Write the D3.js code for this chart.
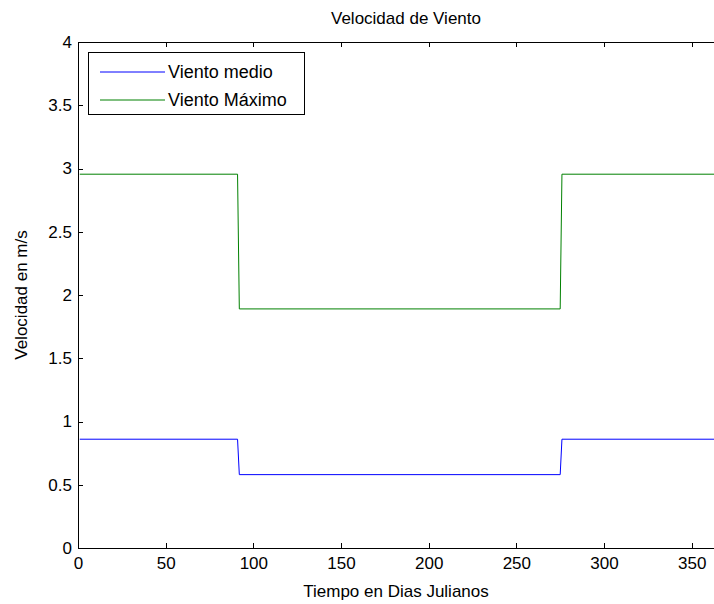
<!DOCTYPE html>
<html>
<head>
	<meta charset="utf-8">
	<title>Velocidad de Viento</title>
	<style>
		body {
			margin: 0;
			background: #fff;
			font-family: "Liberation Sans", Arial, sans-serif;
		}
		svg text {
			fill: #000;
		}
		.axis path, .axis line {
			stroke: #000;
			shape-rendering: crispEdges;
		}
	</style>
</head>
<body>
	<div id="chart"></div>

	<script src="https://cdn.jsdelivr.net/npm/d3@7"></script>
	<script>
	// Data: step values per Julian day (breakpoints)
	var days        = [1, 91, 92, 275, 276, 365]
	var vientoMedio = [0.86, 0.86, 0.58, 0.58, 0.86, 0.86]
	var vientoMax   = [2.955, 2.955, 1.89, 1.89, 2.955, 2.955]

	var xTicks = [0, 50, 100, 150, 200, 250, 300, 350]
	var yTicks = [0, 0.5, 1, 1.5, 2, 2.5, 3, 3.5, 4]

	var seriesNames  = ["Viento medio", "Viento Máximo"]
	var seriesColors = ["#0000ff", "#008000"]

	// Canvas
	var width   = 714,
		height  = 604,
		mLeft   = 78,
		mTop    = 42,
		mBottom = 548,
		mRight  = 718,
		fontSz  = "17px"

	var svg = d3.select("#chart").append("svg")
		.attr("width", width)
		.attr("height", height)
		.style("font-family", "'Liberation Sans', Arial, sans-serif")
		.style("font-size", fontSz)

	var x = d3.scaleLinear().domain([0, 365]).range([mLeft, mRight])
	var y = d3.scaleLinear().domain([0, 4]).range([mBottom, mTop])

	// Axes (ticks inside, MATLAB style)
	svg.append("g").attr("class", "axis")
		.attr("transform", "translate(0," + mBottom + ")")
		.call(d3.axisBottom(x).tickValues(xTicks).tickSize(-5).tickPadding(9).tickFormat(d3.format("d")))
		.call(function(g){ g.select(".domain").attr("d", "M" + mLeft + ",0H" + width) })

	svg.append("g").attr("class", "axis")
		.attr("transform", "translate(0," + mTop + ")")
		.call(d3.axisTop(x).tickValues(xTicks).tickSize(-5).tickFormat(""))
		.call(function(g){ g.select(".domain").attr("d", "M" + mLeft + ",0H" + width) })

	svg.append("g").attr("class", "axis")
		.attr("transform", "translate(" + mLeft + ",0)")
		.call(d3.axisLeft(y).tickValues(yTicks).tickSize(-5).tickPadding(6).tickFormat(d3.format("")))
		.call(function(g){ g.select(".domain").attr("d", "M0," + mTop + "V" + mBottom) })

	svg.selectAll(".axis text")
		.style("font-size", fontSz)
		.style("font-family", "'Liberation Sans', Arial, sans-serif")

	// Lines
	var line = d3.line()
		.x(function(d){ return x(d[0]) })
		.y(function(d){ return y(d[1]) })

	var allSeries = [vientoMedio, vientoMax]
	allSeries.forEach(function(vals, i){
		svg.append("path")
			.datum(days.map(function(d, j){ return [d, vals[j]] }))
			.attr("d", line)
			.attr("fill", "none")
			.attr("stroke", seriesColors[i])
			.attr("stroke-width", 1)
	})

	// Title and labels
	svg.append("text")
		.attr("x", 406).attr("y", 24)
		.attr("text-anchor", "middle")
		.text("Velocidad de Viento")

	svg.append("text")
		.attr("x", (mLeft + width) / 2).attr("y", 597)
		.attr("text-anchor", "middle")
		.text("Tiempo en Dias Julianos")

	svg.append("text")
		.attr("transform", "translate(27," + (mTop + mBottom) / 2 + ") rotate(-90)")
		.attr("text-anchor", "middle")
		.text("Velocidad en m/s")

	// Legend
	var legend = svg.append("g").attr("transform", "translate(88,52)")
	legend.append("rect")
		.attr("x", 0.5).attr("y", 0.5)
		.attr("width", 216).attr("height", 62)
		.attr("fill", "#fff").attr("stroke", "#000")
	seriesNames.forEach(function(name, i){
		var ly = 20 + i * 28
		legend.append("line")
			.attr("x1", 12).attr("x2", 77)
			.attr("y1", ly).attr("y2", ly)
			.attr("stroke", seriesColors[i])
		legend.append("text")
			.attr("x", 80).attr("y", ly + 6)
			.style("font-size", "18px")
			.text(name)
	})
	</script>
</body>
</html>
